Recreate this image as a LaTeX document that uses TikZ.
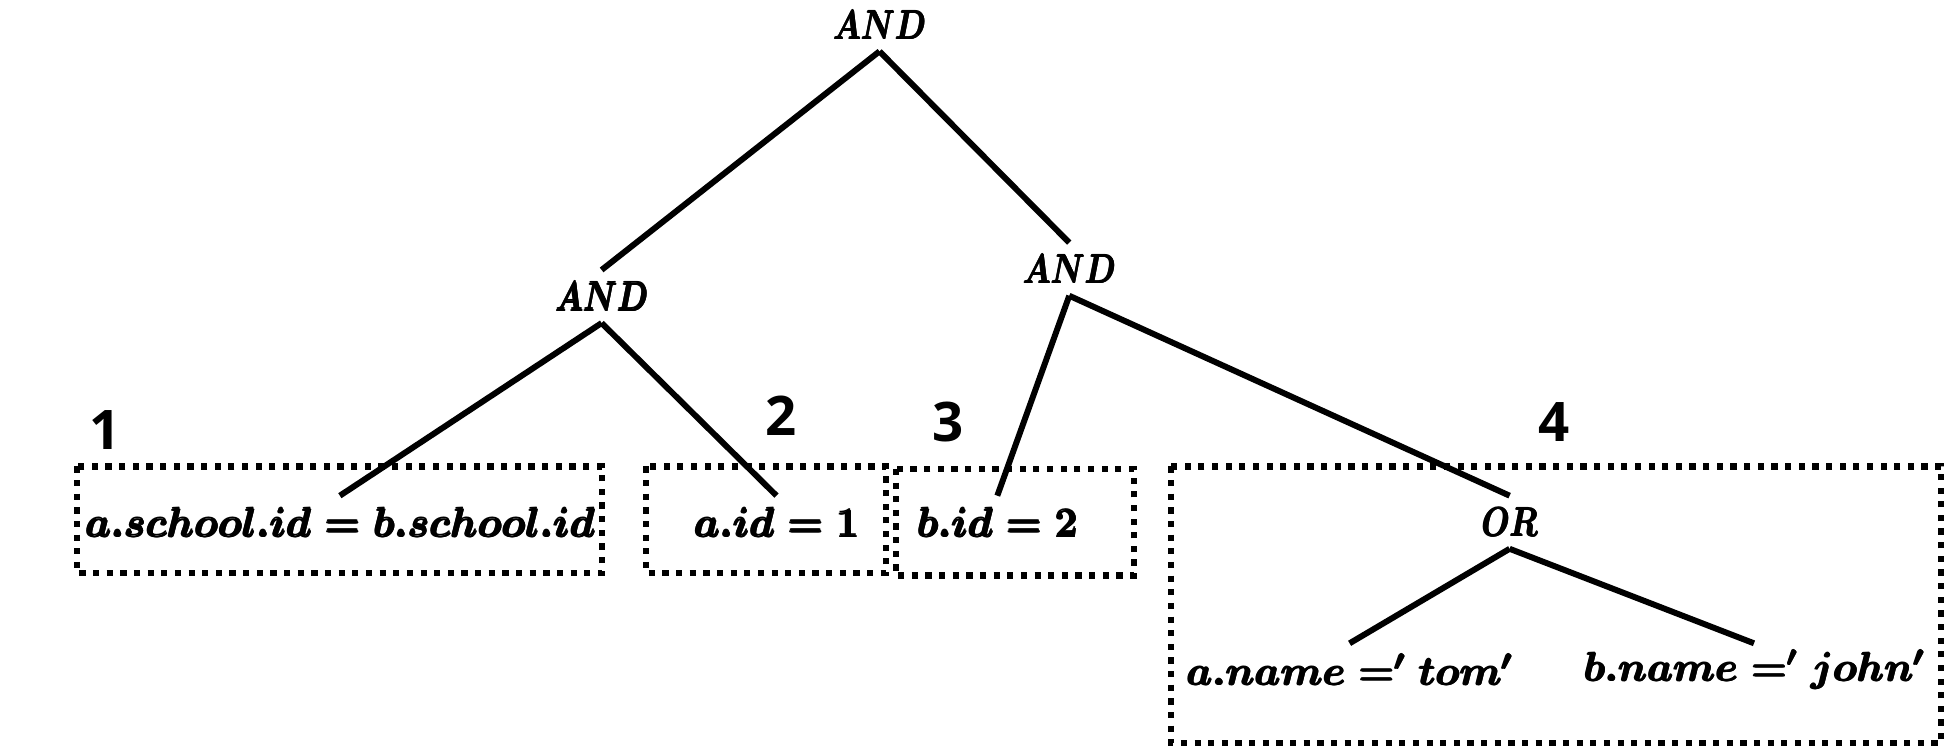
\RequirePackage{fix-cm}
\documentclass[tikz,border=0pt]{standalone}
\usepackage{graphicx}
\usepackage{fontspec}
\newfontfamily\digitfont{Open Sans}
% overprinted (heavier) math text
\newcommand{\fb}[1]{\rlap{#1}\rlap{\raisebox{0.45pt}{\kern0.3pt#1}}\rlap{\kern0.6pt#1}\kern0.6pt#1}
\tikzset{
  edge/.style={line width=2.4pt},
  op/.style={inner sep=0pt, minimum height=21pt, font=\fontsize{16.5}{20}\selectfont\boldmath},
  term/.style={inner sep=0pt, minimum height=21pt, font=\fontsize{16.5}{20}\selectfont\boldmath},
  num/.style={inner sep=0pt, font=\digitfont\bfseries\fontsize{22}{26}\selectfont},
  dotbox/.style={line width=2.5pt, dash pattern=on 2.5pt off 3pt},
}
\newcommand{\nar}[1]{\scalebox{0.78}[1]{\fb{$#1$}}}
\begin{document}
\begin{tikzpicture}[x=0.5pt, y=-0.5pt]
\useasboundingbox (0,0) rectangle (1568,602);
% boxes
\draw[dotbox] (62,376) rectangle (485,462);
\draw[dotbox] (521,376) rectangle (714,462);
\draw[dotbox] (722,378) rectangle (914,464);
\draw[dotbox] (944,376) rectangle (1565,599);
% numbers
\node[num] (n1) at (85,347) {1};
\node[num] (n2) at (630,335) {2};
\node[num] (n3) at (764,340) {3};
\node[num] (n4) at (1253,340) {4};
% operator nodes
\node[op] (root) at (709,20) {\nar{AND}};
\node[op] (andL) at (485,239) {\nar{AND}};
\node[op] (andR) at (862,217) {\nar{AND}};
\node[op] (or) at (1217,421) {\nar{OR}};
% terms
\node[term] (c1) at (274,421) {\fb{$a.school.id = b.school.id$}};
\node[term] (c2) at (626,421) {\fb{$a.id = 1$}};
\node[term] (c3) at (804,421) {\fb{$b.id = 2$}};
\node[term] (tom) at (1088,540) {\fb{$a.name =' tom'$}};
\node[term] (john) at (1414,540) {\fb{$b.name =' john'$}};
% edges
\draw[edge] (root.south) -- (andL.north);
\draw[edge] (root.south) -- (andR.north);
\draw[edge] (andL.south) -- (c1.north);
\draw[edge] (andL.south) -- (c2.north);
\draw[edge] (andR.south) -- (c3.north);
\draw[edge] (andR.south) -- (or.north);
\draw[edge] (or.south) -- (tom.north);
\draw[edge] (or.south) -- (john.north);
\end{tikzpicture}
\end{document}
